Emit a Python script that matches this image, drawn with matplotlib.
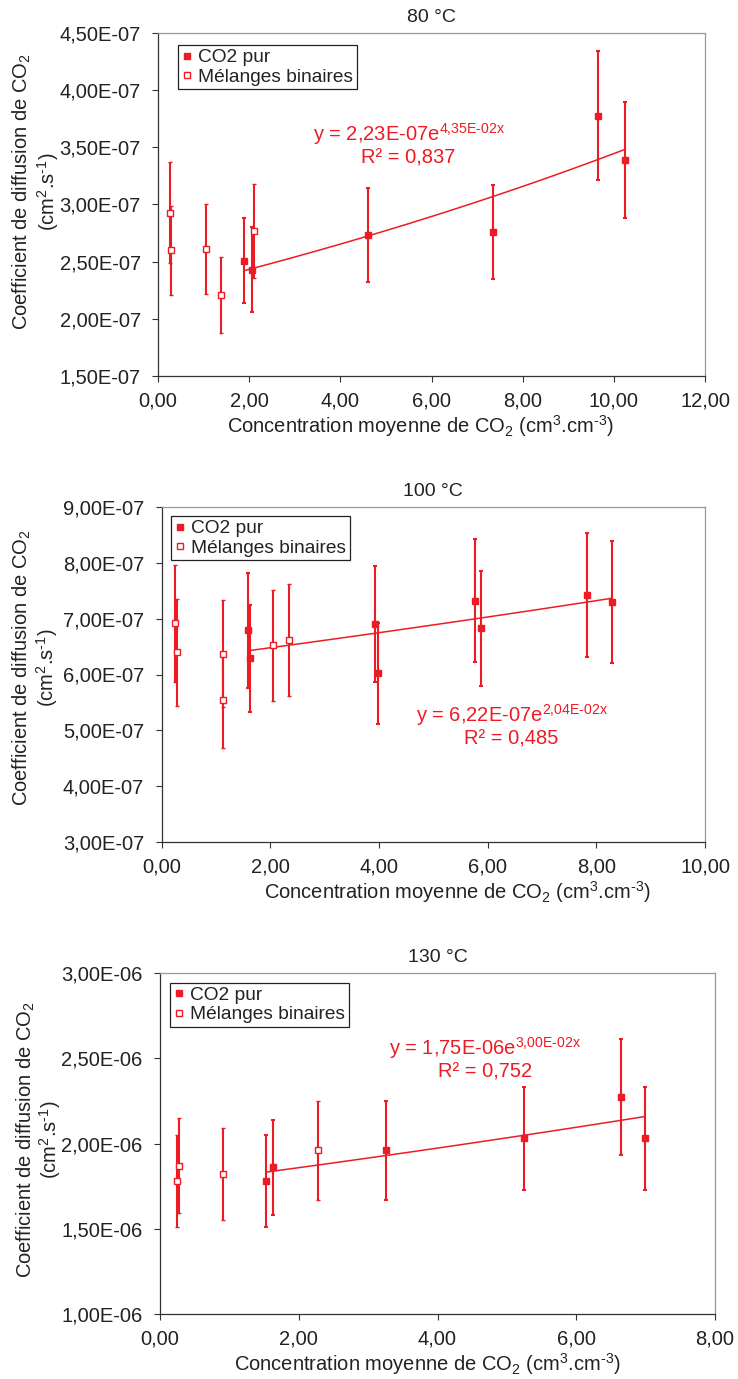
import matplotlib
matplotlib.use("Agg")
import matplotlib.pyplot as plt
from matplotlib.lines import Line2D
from matplotlib.ticker import FuncFormatter, MultipleLocator
import numpy as np

plt.rcParams['font.family'] = ['Liberation Sans', 'DejaVu Sans']
plt.rcParams['mathtext.fontset'] = 'custom'
plt.rcParams['mathtext.rm'] = 'Liberation Sans'
plt.rcParams['mathtext.it'] = 'Liberation Sans'
plt.rcParams['mathtext.bf'] = 'Liberation Sans:bold'
plt.rcParams['mathtext.default'] = 'regular'

# 80 °C
x_pur_80 = [1.89, 2.07, 4.60, 7.34, 9.66, 10.25]
y_pur_80 = [2.51e-7, 2.43e-7, 2.73e-7, 2.76e-7, 3.775e-7, 3.39e-7]
e_pur_80 = [0.37e-7, 0.37e-7, 0.41e-7, 0.41e-7, 0.565e-7, 0.505e-7]
x_mel_80 = [0.26, 0.28, 1.05, 1.38, 2.11]
y_mel_80 = [2.93e-7, 2.60e-7, 2.61e-7, 2.21e-7, 2.77e-7]
e_mel_80 = [0.44e-7, 0.39e-7, 0.39e-7, 0.33e-7, 0.41e-7]
fit_80 = (2.23e-7, 4.35e-2)

# 100 °C
x_pur_100 = [1.60, 1.63, 3.93, 3.99, 5.76, 5.87, 7.83, 8.29]
y_pur_100 = [6.79e-7, 6.29e-7, 6.90e-7, 6.02e-7, 7.32e-7, 6.83e-7, 7.42e-7, 7.30e-7]
e_pur_100 = [1.03e-7, 0.96e-7, 1.04e-7, 0.91e-7, 1.10e-7, 1.03e-7, 1.11e-7, 1.10e-7]
x_mel_100 = [0.25, 0.28, 1.14, 1.14, 2.05, 2.35]
y_mel_100 = [6.92e-7, 6.40e-7, 6.37e-7, 5.54e-7, 6.52e-7, 6.62e-7]
e_mel_100 = [1.05e-7, 0.96e-7, 0.96e-7, 0.85e-7, 0.99e-7, 1.00e-7]
fit_100 = (6.22e-7, 2.04e-2)

# 130 °C
x_pur_130 = [1.53, 1.63, 3.26, 5.25, 6.64, 6.99]
y_pur_130 = [1.78e-6, 1.86e-6, 1.96e-6, 2.03e-6, 2.27e-6, 2.03e-6]
e_pur_130 = [0.27e-6, 0.28e-6, 0.29e-6, 0.30e-6, 0.34e-6, 0.30e-6]
x_mel_130 = [0.24, 0.27, 0.91, 2.28]
y_mel_130 = [1.78e-6, 1.87e-6, 1.82e-6, 1.96e-6]
e_mel_130 = [0.27e-6, 0.28e-6, 0.27e-6, 0.29e-6]
fit_130 = (1.75e-6, 3.00e-2)

red = '#ED1C24'
W, H = 738, 1379
fig = plt.figure(figsize=(W / 100, H / 100), dpi=100)


def fx(v):
    return v / W


def fy(v):
    return 1 - v / H


def draw_panel(box, title, xp, yp, ep, xm, ym, em, fit, xlim, xstep, ylim, ystep,
               eq1, eq2, eqpos, leg_pos, ylab_y, ylab_x, xlab_x):
    l, t, r, b = box
    ax = fig.add_axes([fx(l), fy(b), fx(r - l), (b - t) / H])

    # error bars + markers
    ax.errorbar(xp, yp, yerr=ep, fmt='s', color=red, ms=5, mec=red, mfc=red,
                elinewidth=1.5, capsize=1.6, capthick=1.5, zorder=3)
    ax.errorbar(xm, ym, yerr=em, fmt='s', color=red, ms=5, mec=red, mfc='white',
                mew=1.0, elinewidth=1.5, capsize=1.6, capthick=1.5, zorder=4)

    # exponential trendline on CO2 pur
    a, k = fit
    xs = np.linspace(min(xp), max(xp), 100)
    ax.plot(xs, a * np.exp(k * xs), color=red, lw=1.1, zorder=2)

    ax.set_xlim(*xlim)
    ax.set_ylim(*ylim)
    ax.xaxis.set_major_locator(MultipleLocator(xstep))
    ax.yaxis.set_major_locator(MultipleLocator(ystep))
    ax.xaxis.set_major_formatter(FuncFormatter(lambda v, p: f"{v:.2f}".replace('.', ',')))
    ax.yaxis.set_major_formatter(FuncFormatter(lambda v, p: f"{v:.2E}".replace('.', ',')))
    ax.tick_params(direction='out', length=4, width=0.8, colors='#333333',
                   labelsize=14.5, labelcolor='#222222')
    ax.tick_params(axis='x', pad=7)
    ax.tick_params(axis='y', pad=8.5)
    for s in ['left', 'bottom']:
        ax.spines[s].set_color('#333333')
        ax.spines[s].set_linewidth(0.9)
    for s in ['top', 'right']:
        ax.spines[s].set_color('#999999')
        ax.spines[s].set_linewidth(0.9)

    fig.text(fx((l + r) / 2), fy(t - 16), title, ha='center', va='center',
             fontsize=14, color='#222222')

    handles = [Line2D([], [], ls='none', marker='s', ms=5, color=red, mfc=red),
               Line2D([], [], ls='none', marker='s', ms=5, color=red, mfc='white', mew=1.0)]
    leg = ax.legend(handles, ['CO2 pur', 'Mélanges binaires'], loc='upper left',
                    bbox_to_anchor=leg_pos, borderaxespad=0, fontsize=13.8,
                    handlelength=0.5, handletextpad=0.35, borderpad=0.2,
                    labelspacing=0.1, fancybox=False, framealpha=1,
                    edgecolor='#222222')
    leg.get_frame().set_linewidth(0.9)
    for txt in leg.get_texts():
        txt.set_color('#222222')

    (ex1, ey1), (ex2, ey2) = eqpos
    fig.text(fx(ex1), fy(ey1), eq1, ha='center', va='center', fontsize=14.5, color=red)
    fig.text(fx(ex2), fy(ey2), eq2, ha='center', va='center', fontsize=14.5, color=red)

    fig.text(fx(ylab_x[0]), fy(ylab_y), 'Coefficient de diffusion de CO$_2$',
             rotation=90, ha='center', va='center', fontsize=14.5, color='#222222')
    fig.text(fx(ylab_x[1]), fy(ylab_y), '(cm$^2$.s$^{\\text{-1}}$)',
             rotation=90, ha='center', va='center', fontsize=14.5, color='#222222')
    fig.text(fx(xlab_x), fy(b + 50), 'Concentration moyenne de CO$_2$ (cm$^3$.cm$^{\\text{-3}}$)',
             ha='center', va='center', fontsize=14.5, color='#222222')
    return ax


draw_panel((158, 33, 705, 376), '80 °C', x_pur_80, y_pur_80, e_pur_80,
           x_mel_80, y_mel_80, e_mel_80, fit_80, (0, 12), 2, (1.5e-7, 4.5e-7), 0.5e-7,
           'y = 2,23E-07e$^{\\text{4,35E-02x}}$', 'R² = 0,837',
           ((409, 134), (408, 158)), (0.037, 0.965), 192, (22, 48), 420)

draw_panel((161.5, 507, 705, 842), '100 °C', x_pur_100, y_pur_100, e_pur_100,
           x_mel_100, y_mel_100, e_mel_100, fit_100, (0, 10), 2, (3e-7, 9e-7), 1e-7,
           'y = 6,22E-07e$^{\\text{2,04E-02x}}$', 'R² = 0,485',
           ((512, 715), (511, 739)), (0.0175, 0.973), 668, (22, 47), 457)

draw_panel((160, 973, 715, 1314), '130 °C', x_pur_130, y_pur_130, e_pur_130,
           x_mel_130, y_mel_130, e_mel_130, fit_130, (0, 8), 2, (1e-6, 3e-6), 0.5e-6,
           'y = 1,75E-06e$^{\\text{3,00E-02x}}$', 'R² = 0,752',
           ((485, 1048), (485, 1072)), (0.018, 0.971), 1140, (26, 50), 427)

fig.savefig('out.png', dpi=100)
